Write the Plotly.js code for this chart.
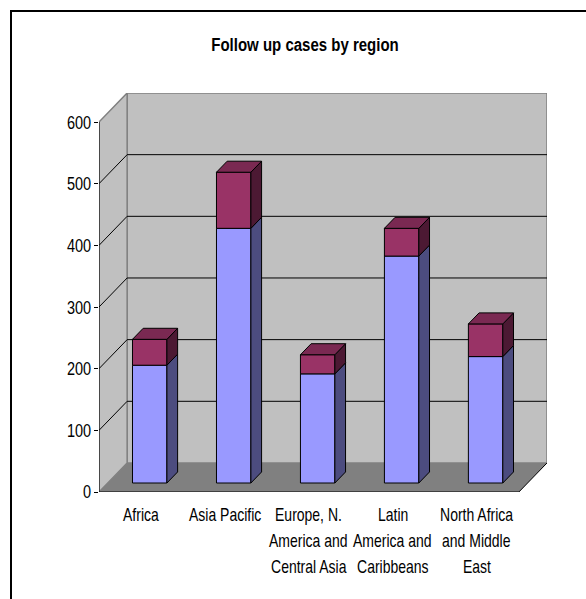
<!DOCTYPE html>
<html>
<head>
<meta charset="utf-8">
<script src="https://cdn.plot.ly/plotly-3.0.1.min.js"></script>
<style>
  html, body { margin: 0; padding: 0; background: #ffffff; }
  #chart { width: 586px; height: 599px; }
</style>
</head>
<body>
<div id="chart"></div>
<script>
// Regions and their label lines under the floor
const categories = ['Africa', 'Asia Pacific', 'Europe, N. America and Central Asia',
                    'Latin America and Caribbeans', 'North Africa and Middle East'];
const labelLines = [
  ['Africa'],
  ['Asia Pacific'],
  ['Europe, N.', 'America and', 'Central Asia'],
  ['Latin', 'America and', 'Caribbeans'],
  ['North Africa', 'and Middle', 'East']
];
// Stacked series (lower blue block, upper plum block)
const lowerValues = [191, 413, 177, 368, 205];
const upperValues = [42, 91, 31, 45, 53];
// Value axis ticks
const yTicks = [0, 100, 200, 300, 400, 500, 600];
const yMax = 600;

// Pseudo-3D projection: depth shifts right by D (category units) and up by DY (value units)
const D = 0.335;
const DY = 47.1;
const F0 = 0.31, F1 = 0.69;       // bar front / back depth fractions
const BAR_W = 0.41;
const N = categories.length;
const FONT = '"Liberation Sans", Arial, sans-serif';
const TEXT_STRETCH = 1.28;        // tall, narrow lettering

const base = F0 * DY;
const dd = (F1 - F0) * D;
const dz = (F1 - F0) * DY;
const centers = categories.map((_, i) => i + 0.5 + F0 * D);

const traces = [];
// Front faces as bars
traces.push({
  type: 'bar', x: centers, y: lowerValues, base: lowerValues.map(() => base),
  width: BAR_W, marker: { color: '#9999FF', line: { color: '#000000', width: 1 } },
  hoverinfo: 'skip', showlegend: false
});
traces.push({
  type: 'bar', x: centers, y: upperValues, base: lowerValues.map(v => base + v),
  width: BAR_W, marker: { color: '#993366', line: { color: '#000000', width: 1 } },
  hoverinfo: 'skip', showlegend: false
});

function face(xs, ys, color) {
  traces.push({
    type: 'scatter', mode: 'lines', x: xs, y: ys, fill: 'toself', fillcolor: color,
    line: { color: '#000000', width: 1 }, hoverinfo: 'skip', showlegend: false
  });
}

categories.forEach((_, i) => {
  const xl = centers[i] - BAR_W / 2;
  const xr = centers[i] + BAR_W / 2;
  const y0 = base;
  const y1 = base + lowerValues[i];
  const y2 = y1 + upperValues[i];
  // right side faces
  face([xr, xr, xr + dd, xr + dd, xr], [y0, y1, y1 + dz, y0 + dz, y0], '#4C4C7F');
  face([xr, xr, xr + dd, xr + dd, xr], [y1, y2, y2 + dz, y1 + dz, y1], '#4C1933');
  // top face
  face([xl, xr, xr + dd, xl + dd, xl], [y2, y2, y2 + dz, y2 + dz, y2], '#7A2952');
});

const shapes = [];
// back wall
shapes.push({ type: 'rect', xref: 'x', yref: 'y', x0: D, x1: N + D, y0: DY, y1: yMax + DY,
  fillcolor: '#C0C0C0', line: { color: '#808080', width: 1.5 }, layer: 'below' });
// side wall
shapes.push({ type: 'path', xref: 'x', yref: 'y',
  path: `M 0,0 L 0,${yMax} L ${D},${yMax + DY} L ${D},${DY} Z`,
  fillcolor: '#C0C0C0', line: { color: '#808080', width: 1.5 }, layer: 'below' });
// floor
shapes.push({ type: 'path', xref: 'x', yref: 'y',
  path: `M 0,0 L ${N},0 L ${N + D},${DY} L ${D},${DY} Z`,
  fillcolor: '#808080', line: { width: 0 }, layer: 'below' });
// gridlines on back wall and side wall
yTicks.filter(v => v > 0 && v < yMax).forEach(v => {
  shapes.push({ type: 'line', xref: 'x', yref: 'y', x0: D, x1: N + D, y0: v + DY, y1: v + DY,
    line: { color: '#000000', width: 1 }, layer: 'below' });
  shapes.push({ type: 'line', xref: 'x', yref: 'y', x0: 0, x1: D, y0: v, y1: v + DY,
    line: { color: '#000000', width: 1 }, layer: 'below' });
});
// axis lines and floor edge
shapes.push({ type: 'line', xref: 'x', yref: 'y', x0: 0, x1: 0, y0: 0, y1: yMax,
  line: { color: '#000000', width: 1 }, layer: 'below' });
shapes.push({ type: 'line', xref: 'x', yref: 'y', x0: 0, x1: N, y0: 0, y1: 0,
  line: { color: '#000000', width: 1 }, layer: 'below' });
shapes.push({ type: 'line', xref: 'x', yref: 'y', x0: N, x1: N + D, y0: 0, y1: DY,
  line: { color: '#000000', width: 1 }, layer: 'below' });
// category boundary ticks
for (let i = 0; i <= N; i++) {
  shapes.push({ type: 'line', xref: 'x', yref: 'y', x0: i, x1: i,
    ysizemode: 'pixel', yanchor: 0, y0: 0, y1: -6,
    line: { color: '#000000', width: 1 } });
}
// outer chart border
shapes.push({ type: 'rect', xref: 'paper', yref: 'paper',
  x0: -88 / 448, x1: 1.2, y0: -0.4, y1: 481 / 399,
  fillcolor: 'rgba(0,0,0,0)', line: { color: '#000000', width: 2 } });

// category labels, one line at a time
const annotations = [];
labelLines.forEach((lines, i) => {
  lines.forEach((txt, j) => {
    annotations.push({ x: i + 0.5, xref: 'x', y: 0, yref: 'paper', yanchor: 'middle',
      xanchor: 'center', yshift: -(23 + 26 * j), showarrow: false, text: txt,
      font: { family: FONT, size: 14, color: '#000000' } });
  });
});

const layout = {
  width: 586, height: 599, autosize: false,
  margin: { l: 99, r: 39, t: 93, b: 107, pad: 0 },
  paper_bgcolor: '#ffffff', plot_bgcolor: 'rgba(0,0,0,0)',
  showlegend: false, barmode: 'overlay',
  title: { text: 'Follow up cases by region', xref: 'container', yref: 'container',
    x: 305 / 586, xanchor: 'center', y: 1 - 44 / 599, yanchor: 'middle',
    font: { family: FONT, size: 15, color: '#000000', weight: 'bold' } },
  xaxis: { range: [0, N + D], showgrid: false, zeroline: false, showline: false,
    showticklabels: false, ticks: '', fixedrange: true },
  yaxis: { range: [0, yMax + DY], tickvals: yTicks, ticktext: yTicks.map(String),
    ticks: 'outside', ticklen: 4, tickcolor: '#000000', tickwidth: 1,
    showgrid: false, zeroline: false, showline: false, fixedrange: true,
    tickfont: { family: FONT, size: 14.5, color: '#000000' } },
  shapes: shapes,
  annotations: annotations
};

// Stretch text vertically about its own centre for the tall lettering
function stretchText(gd) {
  const sel = gd.querySelectorAll('text.annotation-text, g.ytick text, text.gtitle');
  sel.forEach(el => {
    const bb = el.getBBox();
    const cx = bb.x + bb.width / 2;
    const cy = bb.y + bb.height / 2;
    const prev = el.getAttribute('transform') || '';
    el.setAttribute('transform',
      `${prev} translate(${cx},${cy}) scale(1,${TEXT_STRETCH}) translate(${-cx},${-cy})`);
  });
}

Plotly.newPlot('chart', traces, layout, { staticPlot: true, displayModeBar: false })
  .then(stretchText);
</script>
</body>
</html>
